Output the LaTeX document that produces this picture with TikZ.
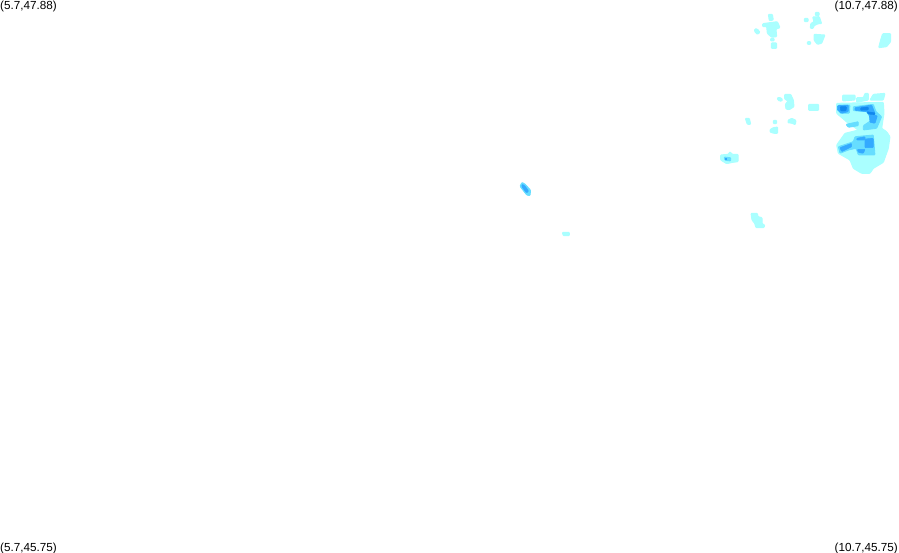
\documentclass[tikz,border=0pt]{standalone}
\usepackage{fontspec}
\setmainfont{Liberation Sans}
\definecolor{lc}{HTML}{AAFFFF}
\definecolor{mc}{HTML}{66DDFF}
\definecolor{dc}{HTML}{33AAFF}
\definecolor{xc}{HTML}{1188EE}
\tikzset{
  corner/.style={font=\fontsize{11.7}{12}\selectfont, inner sep=0pt, text=black},
  lb/.style={fill=lc, draw=lc, line width=1pt, rounded corners=0.8pt},
  mb/.style={fill=mc, draw=mc, line width=0.8pt, rounded corners=0.8pt},
  db/.style={fill=dc, draw=dc, line width=0.6pt, rounded corners=0.8pt},
  xb/.style={fill=xc, draw=xc, line width=0.4pt, rounded corners=0.8pt}
}
\begin{document}
\begin{tikzpicture}[x=1pt,y=-1pt]
\useasboundingbox (0,0) rectangle (899,552);
\fill[white] (0,0) rectangle (899,552);
\node[corner,anchor=base west] (tl) at (0,9) {(5.7,47.88)};
\node[corner,anchor=base east] (tr) at (898,9) {(10.7,47.88)};
\node[corner,anchor=base west] (bl) at (0,551) {(5.7,45.75)};
\node[corner,anchor=base east] (br) at (898,551) {(10.7,45.75)};
% main cell
\begin{scope}[shift={(820,85)},x=0.3333pt,y=-0.3333pt]
\path[lb] (68,30)--(105,30)--(105,45)--(68,48)--cycle;
\path[lb] (110,38)--(130,38)--(135,25)--(145,25)--(145,45)--(110,52)--cycle;
\path[lb] (150,45)--(160,28)--(195,25)--(190,45)--cycle;
\path[lb] (50,55)--(190,52)--(192,85)--(185,130)--(200,140)--(210,155)--(205,190)--(190,232)--(160,250)--(150,265)--(125,265)--(100,250)--(90,225)--(55,205)--(50,180)--(75,145)--(115,135)--(85,115)--(50,85)--cycle;
\path[mb] (78,118)--(115,110)--(115,122)--(85,127)--cycle;
\path[mb] (55,60)--(90,60)--(88,85)--(60,85)--cycle;
\path[mb] (100,65)--(160,58)--(168,80)--(185,95)--(170,130)--(130,135)--(130,122)--(155,105)--(140,80)--(100,77)--cycle;
\path[mb] (105,155)--(160,150)--(165,210)--(115,210)--(108,190)--(85,195)--(60,205)--(55,185)--(100,170)--cycle;
\path[db] (52,62)--(85,60)--(85,80)--(65,85)--(52,75)--cycle;
\path[db] (105,68)--(155,60)--(165,85)--(140,80)--(105,76)--cycle;
\path[db] (148,90)--(172,92)--(165,115)--(150,112)--cycle;
\path[db] (135,162)--(160,160)--(160,188)--(135,188)--cycle;
\path[db] (60,188)--(95,175)--(95,185)--(65,200)--cycle;
\path[db] (110,160)--(135,155)--(135,165)--(110,165)--cycle;
\path[db] (112,193)--(135,193)--(130,205)--(115,202)--cycle;
\path[xb] (60,65)--(80,65)--(78,78)--(62,78)--cycle;
\path[xb] (122,68)--(145,66)--(145,75)--(122,76)--cycle;
\path[xb] (140,80)--(165,83)--(165,90)--(145,88)--cycle;
\end{scope}
% northern cells
\begin{scope}[shift={(740,5)},x=0.3333pt,y=-0.3333pt]
\path[lb] (85,28)--(97,28)--(100,45)--(88,47)--cycle;
\path[lb] (68,56)--(112,50)--(120,68)--(108,72)--(110,95)--(95,97)--(82,85)--(80,65)--(68,65)--cycle;
\path[lb] (92,100)--(102,100)--(102,108)--(92,108)--cycle;
\path[lb] (94,114)--(110,114)--(110,130)--(94,130)--cycle;
\path[lb] (44,72)--(52,72)--(60,82)--(52,88)--(44,80)--cycle;
\path[lb] (226,22)--(237,22)--(237,32)--(226,32)--cycle;
\path[lb] (218,36)--(238,35)--(245,56)--(235,56)--(222,62)--(220,70)--(211,70)--(212,56)--(222,50)--cycle;
\path[lb] (193,40)--(204,40)--(204,50)--(193,50)--cycle;
\path[lb] (222,88)--(255,90)--(245,115)--(232,118)--(222,105)--cycle;
\path[lb] (202,110)--(212,110)--(212,118)--(202,118)--cycle;
\path[lb] (428,86)--(452,86)--(452,110)--(440,125)--(416,128)--(422,105)--cycle;
\end{scope}
% middle cells
\begin{scope}[shift={(710,85)},x=0.3333pt,y=-0.3333pt]
\path[lb] (224,28)--(242,28)--(250,45)--(252,65)--(238,74)--(228,72)--(226,58)--(234,48)--(224,42)--cycle;
\path[lb] (202,38)--(212,38)--(218,44)--(214,49)--(204,46)--cycle;
\path[lb] (296,58)--(326,58)--(326,76)--(296,76)--cycle;
\path[lb] (106,100)--(118,100)--(122,118)--(112,118)--cycle;
\path[lb] (190,106)--(200,106)--(200,116)--(190,116)--cycle;
\path[lb] (234,106)--(245,100)--(258,106)--(256,119)--(244,114)--(234,114)--cycle;
\path[lb] (180,134)--(190,128)--(203,126)--(203,145)--(192,145)--(180,141)--cycle;
\path[lb] (32,210)--(55,208)--(60,200)--(66,208)--(84,208)--(84,230)--(68,232)--(50,236)--(32,225)--cycle;
\path[mb] (42,216)--(62,218)--(62,228)--(45,226)--cycle;
\fill[dc] (45,218)--(52,218)--(52,224)--(45,224)--cycle;
\end{scope}
% lone cells
\begin{scope}[shift={(510,175)},x=0.3333pt,y=-0.3333pt]
\path[mb] (36,22)--(46,28)--(62,46)--(60,62)--(50,60)--(30,34)--cycle;
\path[db] (36,28)--(44,32)--(56,48)--(50,54)--(36,36)--cycle;
\path[lb] (157,172)--(178,172)--(178,182)--(160,182)--cycle;
\end{scope}
\begin{scope}[shift={(740,205)},x=0.3333pt,y=-0.3333pt]
\path[lb] (33,25)--(52,25)--(54,35)--(66,38)--(66,56)--(74,60)--(72,68)--(48,68)--(44,55)--(36,45)--cycle;
\end{scope}
\end{tikzpicture}
\end{document}
